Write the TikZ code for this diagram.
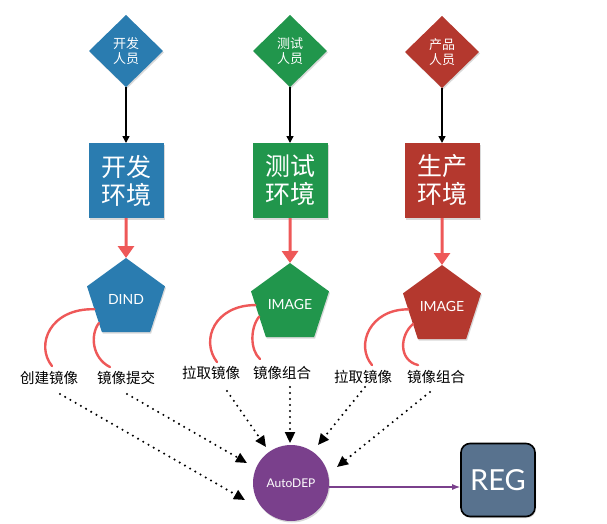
\documentclass[tikz,border=0pt]{standalone}
\usepackage{fontspec}
\setmainfont{Noto Sans CJK SC}
\newfontfamily\latinfont{Lato}
\usetikzlibrary{shapes.geometric, arrows.meta, positioning, calc, shadows}
\definecolor{devblue}{RGB}{42,124,176}
\definecolor{testgreen}{RGB}{33,150,76}
\definecolor{prodred}{RGB}{180,56,46}
\definecolor{autopurple}{RGB}{122,64,140}
\definecolor{regslate}{RGB}{88,114,142}
\definecolor{marker}{RGB}{238,88,88}

\begin{document}
\begin{tikzpicture}[x=1pt, y=-1pt,
      shade/.style={drop shadow={shadow xshift=1pt, shadow yshift=-1.5pt, opacity=0.3}},
      role/.style={diamond, shade, minimum width=74pt, minimum height=72pt,
                   inner sep=0pt, outer sep=0pt, text=white, align=center,
                   font=\fontsize{13}{14.5}\selectfont},
      env/.style={rectangle, shade, minimum size=75pt, inner sep=0pt, outer sep=0pt,
                  text=white, align=center, font=\fontsize{25}{28}\selectfont},
      img/.style={regular polygon, regular polygon sides=5, shade, minimum size=82pt,
                  inner sep=0pt, outer sep=0pt, text=white,
                  font=\latinfont\fontsize{14}{16}\selectfont},
      act/.style={inner sep=1pt, font=\fontsize{14.5}{16}\selectfont},
      feed/.style={-{Triangle[width=7pt, length=7pt]}, line width=1.5pt, draw=black},
      hand/.style={-{Triangle[width=16pt, length=12pt]}, line width=3pt, draw=marker},
      curl/.style={line width=2.4pt, line cap=round, draw=marker},
      dotlink/.style={-{Triangle[width=10pt, length=11pt]}, line width=2.3pt, draw=black,
                      dash pattern=on 0pt off 6pt, line cap=round},
      push/.style={-{Latex[width=6pt, length=8pt]}, line width=1.3pt, draw=autopurple}
    ]
    \useasboundingbox (0,0) rectangle (607,524);

    % roles
    \node[role, fill=devblue]   (dev)    at (126,51) {开发\\人员};
    \node[role, fill=testgreen] (tester) at (290,51) {测试\\人员};
    \node[role, fill=prodred]   (ops)    at (442,52) {产品\\人员};

    % environments
    \node[env, fill=devblue,   below=56pt of dev]    (devenv)  {开发\\环境};
    \node[env, fill=testgreen, below=56pt of tester] (testenv) {测试\\环境};
    \node[env, fill=prodred,   below=55pt of ops]    (prodenv) {生产\\环境};

    % images
    \node[img, fill=devblue,   below=40pt of devenv]  (dind) {DIND};
    \node[img, fill=testgreen, below=45pt of testenv] (gimg) {IMAGE};
    \node[img, fill=prodred,   below=47pt of prodenv] (pimg) {IMAGE};

    % actions
    \node[act] (build)    at (49,378)  {创建镜像};
    \node[act] (commit)   at (126,378) {镜像提交};
    \node[act] (gpull)    at (211,373) {拉取镜像};
    \node[act] (gcompose) at (282,373) {镜像组合};
    \node[act] (ppull)    at (363,377) {拉取镜像};
    \node[act] (pcompose) at (436,377) {镜像组合};

    \node[circle, shade, fill=autopurple, minimum size=76pt, inner sep=0pt, text=white,
          font=\latinfont\fontsize{12}{14}\selectfont] (auto) at (291,483) {AutoDEP};
    \node[rectangle, rounded corners=9pt, shade, draw=black, line width=1.6pt, fill=regslate,
          minimum width=74pt, minimum height=73pt, text=white,
          font=\latinfont\fontsize{29}{32}\selectfont] (reg) at (498,480) {REG};

    \draw[feed] (dev) -- (devenv);
    \draw[feed] (tester) -- (testenv);
    \draw[feed] (ops) -- (prodenv);

    \draw[hand] (devenv) -- (dind);
    \draw[hand] (testenv) -- (gimg);
    \draw[hand] (prodenv) -- (pimg);

    \draw[curl] ($(dind.corner 2)!0.5!(dind.corner 3)$) .. controls (50,308) and (35,345) .. ([xshift=3pt, yshift=4pt]build.north);
    \draw[curl] ($(dind.corner 2)!0.8!(dind.corner 3)$) .. controls (90,335) and (92,358) .. ([xshift=-16pt, yshift=3pt]commit.north);
    \draw[curl] ($(gimg.corner 2)!0.3!(gimg.corner 3)$) .. controls (215,305) and (200,340) .. ([xshift=6pt, yshift=3pt]gpull.north);
    \draw[curl] ($(gimg.corner 2)!0.55!(gimg.corner 3)$) .. controls (250,328) and (250,350) .. ([xshift=-22pt, yshift=6pt]gcompose.north);
    \draw[curl] ($(pimg.corner 2)!0.35!(pimg.corner 3)$) .. controls (370,309) and (355,345) .. ([xshift=9pt, yshift=4pt]ppull.north);
    \draw[curl] ($(pimg.corner 2)!0.67!(pimg.corner 3)$) .. controls (400,335) and (398,360) .. ([xshift=-18pt, yshift=4pt]pcompose.north);

    % arrow ends round AutoDEP
    \coordinate (in1) at (245,500);
    \coordinate (in2) at (247,463);
    \coordinate (in3) at (266,447);
    \coordinate (in4) at (290,443);
    \coordinate (in5) at (318,445);
    \coordinate (in6) at (337,467);

    \draw[dotlink] ([xshift=11pt, yshift=-8pt]build.south) -- (in1);
    \draw[dotlink] ([xshift=1pt, yshift=-8pt]commit.south) -- (in2);
    \draw[dotlink] ([xshift=16pt, yshift=-10pt]gpull.south) -- (in3);
    \draw[dotlink] ([xshift=8pt, yshift=-6pt]gcompose.south) -- (in4);
    \draw[dotlink] ([xshift=2pt, yshift=-2pt]ppull.south) -- (in5);
    \draw[dotlink] ([xshift=-6pt, yshift=-7pt]pcompose.south) -- (in6);

    \draw[push] (auto.-6) -- (auto.-6 -| reg.west);
  \end{tikzpicture}
\end{document}
